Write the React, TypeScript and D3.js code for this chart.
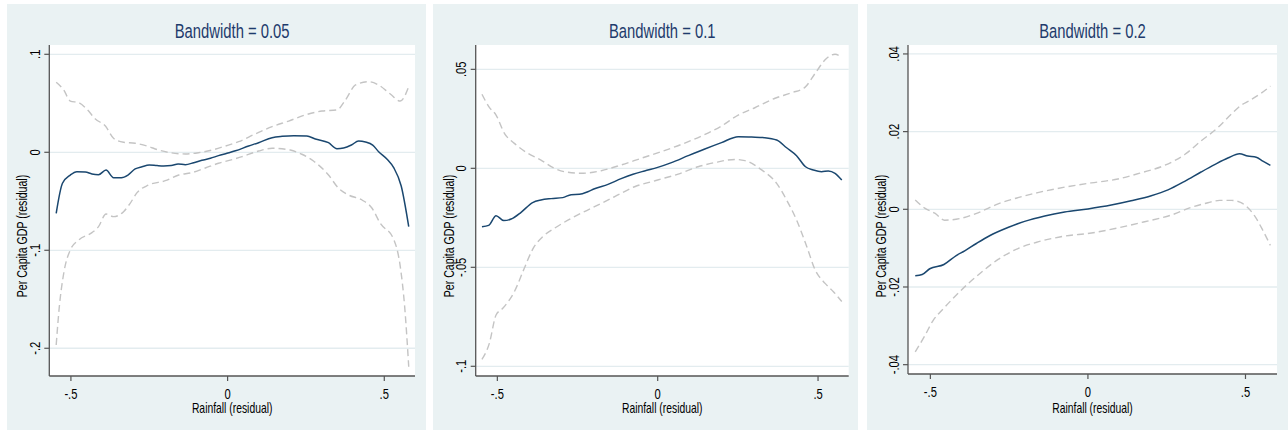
import React from 'react';
import * as d3 from 'd3';

type Pt = [number, number];

// Bandwidth = 0.05
const bw05Mean: Pt[] = [
  [-0.547, -0.0623], [-0.527, -0.0316], [-0.502, -0.0232], [-0.481, -0.0198], [-0.454, -0.0201],
  [-0.433, -0.0221], [-0.412, -0.0228], [-0.388, -0.0181], [-0.364, -0.0259], [-0.339, -0.0259],
  [-0.318, -0.0232], [-0.295, -0.017], [-0.273, -0.0147], [-0.25, -0.013], [-0.225, -0.0136],
  [-0.204, -0.0139], [-0.18, -0.0136], [-0.158, -0.0119], [-0.135, -0.0126], [-0.108, -0.0106],
  [-0.082, -0.0082], [-0.055, -0.0061], [-0.029, -0.0034], [-0.002, -0.001], [0.025, 0.0015],
  [0.067, 0.0064], [0.099, 0.0098], [0.142, 0.0149], [0.174, 0.0163], [0.211, 0.017],
  [0.253, 0.0166], [0.28, 0.0136], [0.322, 0.0098], [0.349, 0.0037], [0.37, 0.0044],
  [0.395, 0.0074], [0.418, 0.0115], [0.44, 0.0105], [0.463, 0.0074], [0.482, 0.0006],
  [0.509, -0.0071], [0.53, -0.0157], [0.554, -0.0344], [0.578, -0.0759],
];
const bw05Upper: Pt[] = [
  [-0.547, 0.0714], [-0.523, 0.0636], [-0.502, 0.0523], [-0.475, 0.0506], [-0.449, 0.0439],
  [-0.422, 0.034], [-0.39, 0.0268], [-0.364, 0.0143], [-0.332, 0.0102], [-0.295, 0.0092],
  [-0.257, 0.0064], [-0.22, 0.0023], [-0.183, -0.0004], [-0.135, -0.0017], [-0.093, -0.0004],
  [-0.05, 0.0023], [-0.007, 0.0064], [0.035, 0.0108], [0.088, 0.0187], [0.142, 0.0262],
  [0.195, 0.0319], [0.248, 0.0381], [0.301, 0.0421], [0.349, 0.0432], [0.376, 0.0534],
  [0.408, 0.0687], [0.45, 0.0721], [0.482, 0.0687], [0.519, 0.0595], [0.551, 0.0523],
  [0.578, 0.067],
];
const bw05Lower: Pt[] = [
  [-0.547, -0.1966], [-0.537, -0.1575], [-0.523, -0.1235], [-0.502, -0.0997], [-0.475, -0.0895],
  [-0.433, -0.082], [-0.412, -0.0759], [-0.388, -0.063], [-0.364, -0.0657], [-0.332, -0.0606],
  [-0.311, -0.0521], [-0.289, -0.0412], [-0.252, -0.0334], [-0.199, -0.029], [-0.156, -0.0232],
  [-0.114, -0.0208], [-0.071, -0.016], [-0.029, -0.0112], [0.025, -0.0065], [0.046, -0.0045],
  [0.099, 0.0013], [0.142, 0.0041], [0.2, 0.0023], [0.237, -0.002], [0.274, -0.0089],
  [0.322, -0.0232], [0.354, -0.0367], [0.386, -0.0436], [0.429, -0.0487], [0.461, -0.0571],
  [0.487, -0.0724], [0.53, -0.0888], [0.551, -0.1167], [0.565, -0.1575], [0.578, -0.2188],
];

// Bandwidth = 0.1
const bw10Mean: Pt[] = [
  [-0.548, -0.0295], [-0.527, -0.0288], [-0.504, -0.0239], [-0.48, -0.0264], [-0.457, -0.0256],
  [-0.426, -0.0222], [-0.39, -0.0173], [-0.364, -0.016], [-0.332, -0.0153], [-0.296, -0.0148],
  [-0.27, -0.0133], [-0.244, -0.0131], [-0.218, -0.0118], [-0.197, -0.0103], [-0.155, -0.0081],
  [-0.114, -0.0052], [-0.077, -0.003], [-0.041, -0.0013], [0, 0.0005], [0.043, 0.0029],
  [0.095, 0.0064], [0.147, 0.0098], [0.199, 0.013], [0.251, 0.016], [0.293, 0.0158],
  [0.334, 0.0155], [0.371, 0.0143], [0.402, 0.0104], [0.433, 0.0064], [0.461, 0.0008],
  [0.485, -0.0008], [0.511, -0.0017], [0.532, -0.0013], [0.553, -0.0025], [0.574, -0.0059],
];
const bw10Upper: Pt[] = [
  [-0.548, 0.0374], [-0.525, 0.0308], [-0.504, 0.0269], [-0.478, 0.0177], [-0.447, 0.0126],
  [-0.405, 0.0076], [-0.364, 0.0042], [-0.322, 0.0], [-0.291, -0.0017], [-0.239, -0.0025],
  [-0.176, -0.0012], [-0.114, 0.0017], [-0.051, 0.0051], [0.011, 0.0084], [0.074, 0.0121],
  [0.136, 0.0163], [0.199, 0.0214], [0.251, 0.0269], [0.303, 0.0306], [0.366, 0.0354],
  [0.418, 0.0382], [0.459, 0.0409], [0.491, 0.048], [0.527, 0.0556], [0.553, 0.0576],
  [0.574, 0.0561],
];
const bw10Lower: Pt[] = [
  [-0.548, -0.0965], [-0.525, -0.0884], [-0.504, -0.0741], [-0.483, -0.0707], [-0.447, -0.0623],
  [-0.416, -0.0505], [-0.39, -0.0409], [-0.358, -0.0345], [-0.322, -0.0303], [-0.27, -0.0253],
  [-0.197, -0.0194], [-0.134, -0.0143], [-0.072, -0.0093], [0, -0.0059], [0.064, -0.0029],
  [0.126, 0.0008], [0.178, 0.0029], [0.241, 0.0045], [0.272, 0.0039], [0.324, -0.0008],
  [0.371, -0.0076], [0.402, -0.016], [0.433, -0.0261], [0.465, -0.0396], [0.491, -0.0513],
  [0.522, -0.0581], [0.548, -0.0623], [0.574, -0.0673],
];

// Bandwidth = 0.2
const bw20Mean: Pt[] = [
  [-0.548, -0.0171], [-0.526, -0.0168], [-0.502, -0.0153], [-0.457, -0.0142], [-0.418, -0.0119],
  [-0.391, -0.0107], [-0.354, -0.0088], [-0.312, -0.0068], [-0.254, -0.0047], [-0.201, -0.0031],
  [-0.137, -0.0017], [-0.074, -0.0007], [0, 0.0001], [0.074, 0.0011], [0.137, 0.0022],
  [0.201, 0.0035], [0.254, 0.005], [0.307, 0.0072], [0.359, 0.0096], [0.402, 0.0115],
  [0.444, 0.0132], [0.481, 0.0143], [0.507, 0.0137], [0.534, 0.0134], [0.555, 0.0124],
  [0.579, 0.0113],
];
const bw20Upper: Pt[] = [
  [-0.548, 0.0024], [-0.518, 0.0003], [-0.486, -0.001], [-0.455, -0.0028], [-0.402, -0.0023],
  [-0.349, -0.0009], [-0.285, 0.0014], [-0.222, 0.003], [-0.159, 0.0043], [-0.074, 0.0057],
  [0.011, 0.0068], [0.095, 0.0078], [0.169, 0.0094], [0.243, 0.0113], [0.307, 0.0141],
  [0.359, 0.0176], [0.412, 0.021], [0.455, 0.0245], [0.486, 0.0268], [0.513, 0.028],
  [0.55, 0.0299], [0.579, 0.0317],
];
const bw20Lower: Pt[] = [
  [-0.548, -0.0367], [-0.518, -0.0326], [-0.492, -0.0287], [-0.46, -0.0257], [-0.423, -0.0225],
  [-0.381, -0.0192], [-0.338, -0.0162], [-0.285, -0.0129], [-0.222, -0.0101], [-0.159, -0.0084],
  [-0.074, -0.0069], [0.011, -0.0061], [0.095, -0.0048], [0.18, -0.0032], [0.264, -0.0015],
  [0.328, 0.0005], [0.381, 0.0017], [0.418, 0.0023], [0.455, 0.0023], [0.486, 0.0017],
  [0.529, -0.0017], [0.555, -0.0054], [0.579, -0.0093],
];

const xTicks = [-0.5, 0, 0.5];
const yTicks05 = [-0.2, -0.1, 0, 0.1];
const yTicks10 = [-0.1, -0.05, 0, 0.05];
const yTicks20 = [-0.04, -0.02, 0, 0.02, 0.04];

const titles = ['Bandwidth = 0.05', 'Bandwidth = 0.1', 'Bandwidth = 0.2'];
const xTitle = 'Rainfall (residual)';
const yTitle = 'Per Capita GDP (residual)';

const FONT = "'Liberation Sans', Arial, Helvetica, sans-serif";
const BG = '#eaf2f3';
const GRID = '#e3ecef';
const NAVY = '#1a476f';
const CI = '#c4c4c4';

// stata style: ".5", "-.05", "0"
const fmt = (v: number) => (v === 0 ? '0' : String(v).replace('0.', '.'));

interface Layout {
  bg: [number, number];
  left: number;
  right: number;
  top: number;
  bottom: number;
  xDomain: [number, number];
  yDomain: [number, number];
}

const layouts: Layout[] = [
  { bg: [7, 426], left: 49.3, right: 415, top: 45, bottom: 376, xDomain: [-0.569, 0.598], yDomain: [-0.2283, 0.1095] },
  { bg: [433, 858], left: 475.7, right: 848.7, top: 45, bottom: 376, xDomain: [-0.5675, 0.5956], yDomain: [-0.1049, 0.0623] },
  { bg: [867, 1290], left: 908, right: 1277, top: 45, bottom: 374, xDomain: [-0.571, 0.6], yDomain: [-0.0424, 0.0423] },
];

interface PanelProps {
  layout: Layout;
  title: string;
  yTicks: number[];
  mean: Pt[];
  upper: Pt[];
  lower: Pt[];
}

const Panel = ({ layout, title, yTicks, mean, upper, lower }: PanelProps) => {
  const { left, right, top, bottom } = layout;
  const x = d3.scaleLinear().domain(layout.xDomain).range([left, right]);
  const y = d3.scaleLinear().domain(layout.yDomain).range([bottom, top]);
  const line = d3
    .line<Pt>()
    .x((d) => x(d[0]))
    .y((d) => y(d[1]))
    .curve(d3.curveMonotoneX);
  const cx = (left + right) / 2;

  return (
    <g fontFamily={FONT}>
      <rect x={layout.bg[0]} y={4} width={layout.bg[1] - layout.bg[0]} height={426} fill={BG} />
      <rect x={left} y={top} width={right - left} height={bottom - top} fill="#fff" />
      {yTicks.map((t) => (
        <line key={`g${t}`} x1={left} x2={right} y1={y(t)} y2={y(t)} stroke={GRID} strokeWidth={1.3} />
      ))}

      <path d={line(upper) || ''} fill="none" stroke={CI} strokeWidth={1.4} strokeDasharray="7,4" />
      <path d={line(lower) || ''} fill="none" stroke={CI} strokeWidth={1.4} strokeDasharray="7,4" />
      <path d={line(mean) || ''} fill="none" stroke={NAVY} strokeWidth={1.5} />

      <line x1={left} x2={left} y1={top} y2={bottom} stroke="#555" strokeWidth={1.3} />
      <line x1={left} x2={right} y1={bottom} y2={bottom} stroke="#555" strokeWidth={1.3} />

      {xTicks.map((t) => (
        <g key={`x${t}`}>
          <line x1={x(t)} x2={x(t)} y1={bottom} y2={bottom + 5} stroke="#555" strokeWidth={1.2} />
          <g transform={`translate(${x(t)},${bottom + 23}) scale(0.8,1)`}>
            <text textAnchor="middle" fontSize={14} fill="#000">
              {fmt(t)}
            </text>
          </g>
        </g>
      ))}
      {yTicks.map((t) => (
        <g key={`y${t}`}>
          <line x1={left - 5} x2={left} y1={y(t)} y2={y(t)} stroke="#555" strokeWidth={1.2} />
          <g transform={`translate(${left - 9.5},${y(t)}) rotate(-90) scale(0.8,1)`}>
            <text textAnchor="middle" fontSize={14} fill="#000">
              {fmt(t)}
            </text>
          </g>
        </g>
      ))}

      <g transform={`translate(${cx},37.5) scale(0.76,1)`}>
        <text textAnchor="middle" fontSize={19.5} fill="#1e3b6c">
          {title}
        </text>
      </g>
      <g transform={`translate(${cx},412.5) scale(0.74,1)`}>
        <text textAnchor="middle" fontSize={14} fill="#000">
          {xTitle}
        </text>
      </g>
      <g transform={`translate(${left - 22},236) rotate(-90) scale(0.755,1)`}>
        <text textAnchor="middle" fontSize={14} fill="#000">
          {yTitle}
        </text>
      </g>
    </g>
  );
};

const App = () => (
  <svg
    width={1288}
    height={434}
    viewBox="0 0 1288 434"
    style={{ position: 'absolute', left: 0, top: 0, background: '#fff' }}
  >
    <Panel layout={layouts[0]} title={titles[0]} yTicks={yTicks05} mean={bw05Mean} upper={bw05Upper} lower={bw05Lower} />
    <Panel layout={layouts[1]} title={titles[1]} yTicks={yTicks10} mean={bw10Mean} upper={bw10Upper} lower={bw10Lower} />
    <Panel layout={layouts[2]} title={titles[2]} yTicks={yTicks20} mean={bw20Mean} upper={bw20Upper} lower={bw20Lower} />
  </svg>
);

export default App;
